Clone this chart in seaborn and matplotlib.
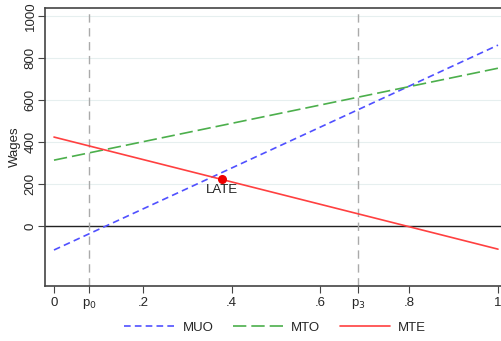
import numpy as np
import pandas as pd
import matplotlib
matplotlib.use("Agg")
import matplotlib.pyplot as plt
import seaborn as sns

# Data
p = [0.0, 1.0]
muo = [-114, 862]
mto = [314, 752]
mte = [424, -110]
p0, p3 = 0.079, 0.685
late_p, late_w = 0.378, 224

xticks = [0, p0, 0.2, 0.4, 0.6, p3, 0.8, 1.0]
xticklabels = ["0", "p$_0$", ".2", ".4", ".6", "p$_3$", ".8", "1"]
yticks = [0, 200, 400, 600, 800, 1000]

sns.set_theme(style="white")
plt.rcParams['font.family'] = ['Liberation Sans', 'DejaVu Sans']

df = pd.DataFrame({"p": p, "MUO": muo, "MTO": mto, "MTE": mte})

fig = plt.figure(figsize=(5.02, 3.41), dpi=100)
ax = fig.add_axes([0.0896, 0.161, 0.9104, 0.815])

for w in yticks:
    ax.axhline(w, color="#e6efef", lw=0.8, zorder=0)
ax.axhline(0, color="#222222", lw=1.0, zorder=1)
for v in [p0, p3]:
    ax.axvline(v, color="#aaaaaa", lw=1.0, ls=(0, (6, 4)), zorder=1)

sns.lineplot(data=df, x="p", y="MUO", ax=ax, color="#5050ff", lw=1.2,
             label="MUO", zorder=3).lines[-1].set_dashes([4, 2.5])
sns.lineplot(data=df, x="p", y="MTO", ax=ax, color="#4caf4c", lw=1.2,
             label="MTO", zorder=3).lines[-1].set_dashes([8, 3])
sns.lineplot(data=df, x="p", y="MTE", ax=ax, color="#ff4040", lw=1.2,
             label="MTE", zorder=3)

ax.scatter([late_p], [late_w], color="#ee0000", s=30, zorder=4)
ax.text(late_p, late_w - 25, "LATE", ha="center", va="top", fontsize=9.5, color="#222222")

ax.set_xlim(-0.0203, 1.009)
ax.set_ylim(-286, 1038)
ax.set_xticks(xticks)
ax.set_xticklabels(xticklabels, fontsize=9.5)
ax.set_yticks(yticks)
ax.set_yticklabels([str(t) for t in yticks], fontsize=9.5, rotation=90, va="center")
ax.set_xlabel("")
ax.set_ylabel("Wages", fontsize=9.5, labelpad=3)
ax.tick_params(axis="x", direction="out", length=5, width=0.8, color="#444444", pad=3,
               bottom=True)
ax.tick_params(axis="y", direction="out", length=5, width=0.8, color="#444444", pad=1,
               left=True)
for side in ["left", "bottom", "top"]:
    ax.spines[side].set_color("#444444")
    ax.spines[side].set_linewidth(1.2)
ax.spines["right"].set_visible(False)

ax.legend(loc="upper center", bbox_to_anchor=(0.504, -0.085), ncol=3, frameon=False,
          fontsize=9.5, handlelength=3.8, handletextpad=0.6, columnspacing=1.5)

fig.savefig("out.png", dpi=100)
